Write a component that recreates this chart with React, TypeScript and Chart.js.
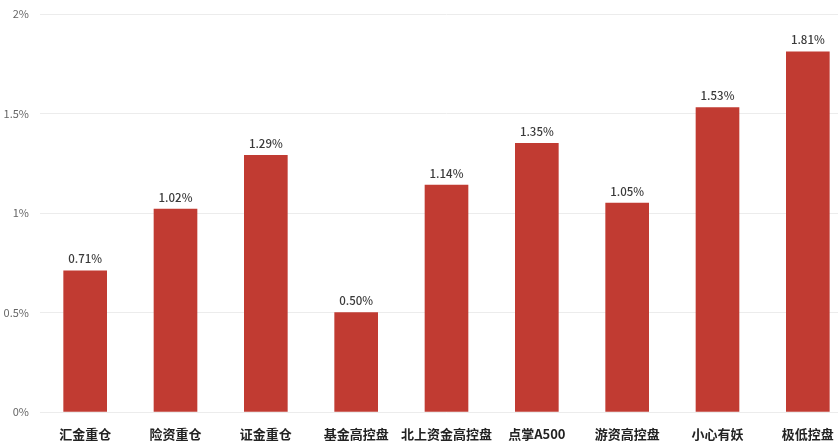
import { useEffect, useRef } from 'react';
import { Chart, registerables, Plugin } from 'chart.js';

Chart.register(...registerables);

const categories = ['汇金重仓', '险资重仓', '证金重仓', '基金高控盘', '北上资金高控盘', '点掌A500', '游资高控盘', '小心有妖', '极低控盘'];
const values = [0.71, 1.02, 1.29, 0.5, 1.14, 1.35, 1.05, 1.53, 1.81];
const yTicks = [0, 0.5, 1, 1.5, 2];

const FONT = '"Noto Sans CJK SC", "Noto Sans", sans-serif';

// draws "x.xx%" above each bar
const valueLabels: Plugin<'bar'> = {
  id: 'valueLabels',
  afterDatasetsDraw(chart) {
    const { ctx } = chart;
    const meta = chart.getDatasetMeta(0);
    ctx.save();
    ctx.fillStyle = '#3a3a3a';
    ctx.font = `500 11.5px ${FONT}`;
    ctx.textAlign = 'center';
    ctx.textBaseline = 'bottom';
    meta.data.forEach((bar, i) => {
      ctx.fillText(values[i].toFixed(2) + '%', bar.x, bar.y - 6);
    });
    ctx.restore();
  }
};

export default function App() {
  const canvasRef = useRef<HTMLCanvasElement>(null);
  const chartInstance = useRef<Chart | null>(null);

  useEffect(() => {
    if (!canvasRef.current) return;
    if (chartInstance.current) chartInstance.current.destroy();

    document.body.style.margin = '0';
    document.body.style.overflow = 'hidden';

    chartInstance.current = new Chart(canvasRef.current, {
      type: 'bar',
      data: {
        labels: categories,
        datasets: [
          {
            data: values,
            backgroundColor: '#c13b32',
            borderWidth: 0,
            barThickness: 43
          }
        ]
      },
      options: {
        animation: false,
        responsive: true,
        maintainAspectRatio: false,
        layout: { padding: { top: 14, right: 3, left: 0, bottom: 0 } },
        plugins: {
          legend: { display: false },
          tooltip: { enabled: false }
        },
        scales: {
          x: {
            grid: { display: false },
            border: { display: false },
            ticks: {
              color: '#222',
              font: { family: FONT, size: 13, weight: 'bold' },
              padding: 6,
              maxRotation: 0,
              autoSkip: false
            },
            afterFit(scale) {
              scale.height = 29;
            }
          },
          y: {
            min: 0,
            max: 2,
            afterBuildTicks(scale) {
              scale.ticks = yTicks.map((v) => ({ value: v }));
            },
            grid: { color: '#ececec', lineWidth: 1, drawTicks: false },
            border: { display: false },
            ticks: {
              color: '#666',
              font: { family: FONT, size: 11 },
              padding: 11,
              callback: (v) => `${v}%`
            },
            afterFit(scale) {
              scale.width = 40;
              scale.paddingTop = 0;
              scale.paddingBottom = 0;
            }
          }
        }
      },
      plugins: [valueLabels]
    });

    return () => {
      if (chartInstance.current) {
        chartInstance.current.destroy();
        chartInstance.current = null;
      }
    };
  }, []);

  return (
    <div style={{ position: 'fixed', left: 0, top: 0, width: 856, height: 441, background: '#fff' }}>
      <canvas ref={canvasRef}></canvas>
    </div>
  );
}
